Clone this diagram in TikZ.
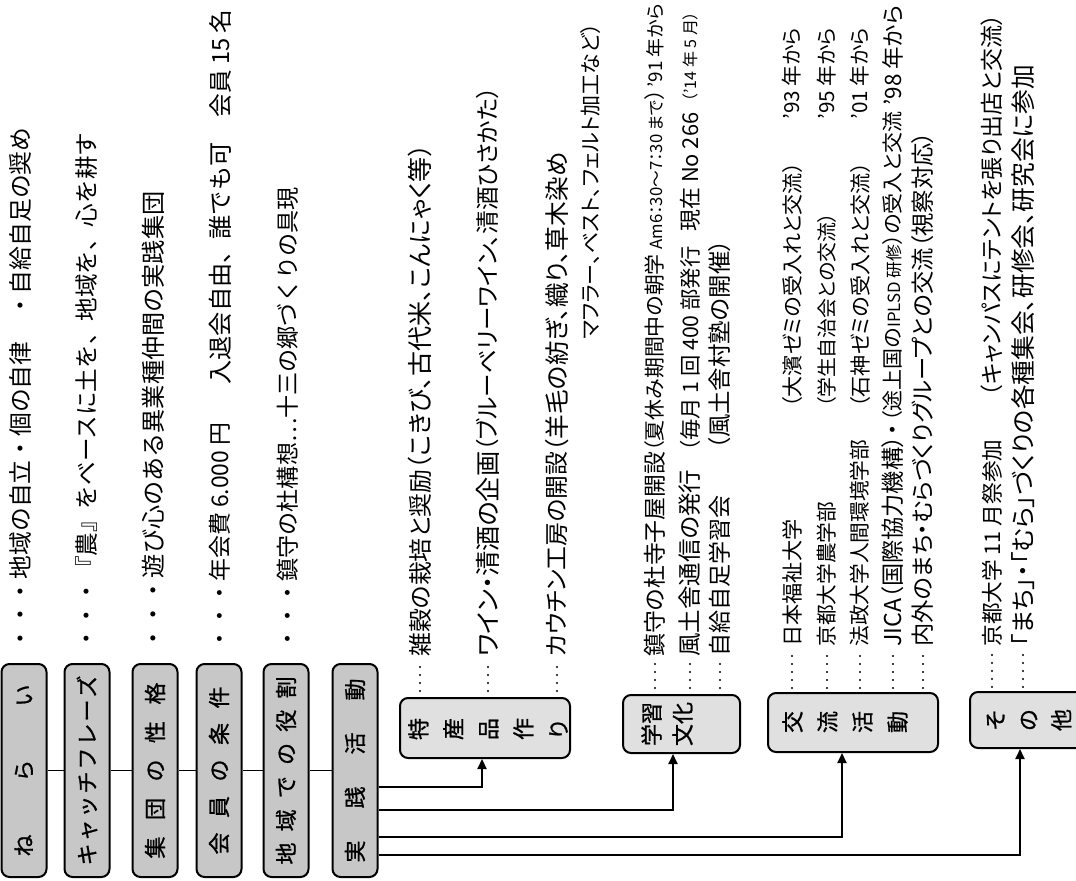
\documentclass[tikz,border=0pt]{standalone}
\usepackage{fontspec}
\usepackage{graphicx}
\newfontfamily\jp{Noto Sans CJK JP}
\newfontfamily\jpb[FakeBold=1]{Noto Sans CJK JP}
\newfontfamily\jpp[RawFeature=+palt]{Noto Sans CJK JP}
\usetikzlibrary{arrows.meta,calc}
\tikzset{
  lbox/.style={draw, line width=1pt, rounded corners=4pt, fill=black!22, minimum width=22.5pt, minimum height=106.5pt, inner sep=0pt},
  sbox/.style={draw, line width=1pt, rounded corners=4pt, fill=black!12, inner sep=0pt},
  lbl/.style={rotate=90, font=\jpb\fontsize{11}{#1}\selectfont, align=center, inner sep=0pt},
  lbl/.default=13,
  seg/.style={rotate=90, anchor=west, inner sep=0pt, font=\jpp},
  rowtxt/.style={rotate=90, anchor=west, inner sep=0pt, font=\jp},
  link/.style={line width=0.8pt},
  arr/.style={line width=0.9pt, -{Triangle[length=5pt,width=4.5pt]}},
  leader/.style={line width=1.1pt, line cap=round, dash pattern=on 0pt off 4pt},
}
\newcommand\fit[2]{\resizebox{#1pt}{!}{#2}}
\begin{document}
\begin{tikzpicture}[x=0.5pt,y=-0.5pt]
\useasboundingbox (0,0) rectangle (1076,881);
\clip (0,0) rectangle (1076,881);

% left column boxes
\node[lbox] (b1) at (24,770.5) {};
\node[lbox] (b2) at (87,770.5) {};
\node[lbox] (b3) at (155,770.5) {};
\node[lbox] (b4) at (219,770.5) {};
\node[lbox] (b5) at (286,770.5) {};
\node[lbox] (b6) at (355,770.5) {};
\node[lbl] at (b1) {\makebox[86pt][s]{ね\hfill ら\hfill い}};
\node[lbl] at (b2) {\makebox[95pt][s]{キ\hfill ャ\hfill ッ\hfill チ\hfill フ\hfill レ\hfill ー\hfill ズ}};
\node[lbl] at (b3) {\makebox[88pt][s]{集\hfill 団\hfill の\hfill 性\hfill 格}};
\node[lbl] at (b4) {\makebox[84pt][s]{会\hfill 員\hfill の\hfill 条\hfill 件}};
\node[lbl] at (b5) {\makebox[94pt][s]{地\hfill 域\hfill で\hfill の\hfill 役\hfill 割}};
\node[lbl] at (b6) {\makebox[92pt][s]{実\hfill 践\hfill 活\hfill 動}};
\draw[link] (b1) -- (b2);
\draw[link] (b2) -- (b3);
\draw[link] (b3) -- (b4);
\draw[link] (b4) -- (b5);
\draw[link] (b5) -- (b6);

% left rows
\node[rowtxt] (r1) at (20,651) {\fit{261.5}{・・・地域の自立・個の自律　・自給自足の奨め}};
\node[rowtxt] (r2) at (87,651) {\fit{259}{・・・『農』をベースに土を、地域を、心を耕す}};
\node[rowtxt] (r3) at (153,651) {\fit{229.5}{・・・遊び心のある異業種仲間の実践集団}};
\node[rowtxt] (r4a) at (220,651) {\fit{114}{・・・年会費 6.000 円}};
\node[rowtxt] (r4b) at (220,385) {\fit{121}{入退会自由、誰でも可}};
\node[rowtxt] (r4c) at (220,118) {\fit{54}{会員 15 名}};
\node[rowtxt] (r5) at (288,651) {\fit{231.5}{・・・鎮守の杜構想…十三の郷づくりの具現}};

% sub boxes
\node[sbox, minimum width=85pt, minimum height=30pt] (tok) at (485,728) {};
\node[sbox, minimum width=58.5pt, minimum height=29pt] (gak) at (681.5,724) {};
\node[sbox, minimum width=85pt, minimum height=29.5pt] (kor) at (853,722.5) {};
\node[sbox, minimum width=60pt, minimum height=28pt] (son) at (1030,720) {};
\node[lbl=17.5] at (488,729) {特\\産\\品\\作\\り};
\node[lbl=15.5] at (667,724) {学習\\文化};
\node[lbl=17.5] at (845,722) {交\\流\\活\\動};
\node[lbl=16.5] at (1029,720) {そ\\の\\他};

% arrows from 実践活動
\draw[arr, line width=1.1pt] ($(b6.east)+(0,16.5)$) -| ($(tok.south)+(-3,0)$);
\draw[arr] ($(b6.east)+(0,39.5)$) -| ($(gak.south)+(-8.5,0)$);
\draw[arr] ($(b6.east)+(0,66.5)$) -| ($(kor.south)+(-11,0)$);
\draw[arr] ($(b6.east)+(0,84.5)$) -| ($(son.south)+(-10,0)$);

% 特産品作り items
\node[seg] (t1a) at (420,657) {\fit{93.5}{雑穀の栽培と奨励}};
\node[seg] (t1b) at (420,470) {\fit{162.5}{（こきび、古代米、こんにゃく等）}};
\node[seg] (t2a) at (488,657) {\fit{102.5}{ワイン・清酒の企画}};
\node[seg] (t2b) at (488,452) {\fit{182.5}{（ブルーベリーワイン、清酒ひさかた）}};
\node[seg] (t3a) at (557,657) {\fit{102.5}{カウチン工房の開設}};
\node[seg] (t3b) at (557,452) {\fit{149.5}{（羊毛の紡ぎ、織り、草木染め}};
\node[seg] (t3c) at (590,340) {\fit{158}{マフラー、ベスト、フェルト加工など）}};
\draw[leader] ($(tok.north -| t1a.west)+(0,-6)$) -- ($(t1a.west)+(0,4)$);
\draw[leader] ($(tok.north -| t2a.west)+(0,-6)$) -- ($(t2a.west)+(0,4)$);
\draw[leader] ($(tok.north -| t3a.west)+(0,-6)$) -- ($(t3a.west)+(0,4)$);

% 学習文化 items
\node[seg] (g1a) at (655,657) {\fit{102.5}{鎮守の杜寺子屋開設}};
\node[seg] (g1b) at (655,452) {\fit{181}{（夏休み期間中の朝学 {\footnotesize Am6：30〜7：30 まで}）}};
\node[seg] (g1c) at (655,88) {\fit{42}{’91 年から}};
\node[seg] (g2a) at (690,657) {\fit{93.5}{風土舎通信の発行}};
\node[seg] (g2b) at (690,452) {\fit{102.5}{（毎月 1 回 400 部発行}};
\node[seg] (g2c) at (690,232) {\fit{59.5}{現在 No 266}};
\node[seg] (g2d) at (690,102) {\fit{45}{（’14 年 5 月）}};
\node[seg] (g3a) at (720,657) {\fit{80.5}{自給自足学習会}};
\node[seg] (g3b) at (720,450) {\fit{105}{（風土舎村塾の開催）}};
\draw[leader] ($(gak.north -| g1a.west)+(0,-6)$) -- ($(g1a.west)+(0,4)$);
\draw[leader] ($(gak.north -| g2a.west)+(0,-6)$) -- ($(g2a.west)+(0,4)$);
\draw[leader] ($(gak.north -| g3a.west)+(0,-6)$) -- ($(g3a.west)+(0,4)$);

% 交流活動 items
\node[seg] (k1a) at (792,647) {\fit{63.5}{日本福祉大学}};
\node[seg] (k1b) at (792,408) {\fit{122.5}{（大濱ゼミの受入れと交流）}};
\node[seg] (k1c) at (792,120) {\fit{46}{’93 年から}};
\node[seg] (k2a) at (827,647) {\fit{72.5}{京都大学農学部}};
\node[seg] (k2b) at (827,408) {\fit{97.5}{（学生自治会との交流）}};
\node[seg] (k2c) at (827,120) {\fit{46}{’95 年から}};
\node[seg] (k3a) at (860,647) {\fit{103.5}{法政大学人間環境学部}};
\node[seg] (k3b) at (860,408) {\fit{122.5}{（石神ゼミの受入れと交流）}};
\node[seg] (k3c) at (860,120) {\fit{46}{’01 年から}};
\node[seg] (k4a) at (893,647) {\fit{111}{JICA（国際協力機構）・}};
\node[seg] (k4b) at (893,422) {\fit{155}{（途上国の{\footnotesize IPLSD 研修}）の受入と交流}};
\node[seg] (k4c) at (893,106) {\fit{50}{’98 年から}};
\node[seg] (k5) at (923,647) {\fit{257.5}{内外のまち・むらづくりグループとの交流（視察対応）}};
\draw[leader] ($(kor.north -| k1a.west)+(0,-4)$) -- ($(k1a.west)+(0,4)$);
\draw[leader] ($(kor.north -| k2a.west)+(0,-4)$) -- ($(k2a.west)+(0,4)$);
\draw[leader] ($(kor.north -| k3a.west)+(0,-4)$) -- ($(k3a.west)+(0,4)$);
\draw[leader] ($(kor.north -| k4a.west)+(0,-4)$) -- ($(k4a.west)+(0,4)$);
\draw[leader] ($(kor.north -| k5.west)+(0,-4)$) -- ($(k5.west)+(0,4)$);

% その他 items
\node[seg] (s1a) at (992,647) {\fit{103.5}{京都大学 11 月祭参加}};
\node[seg] (s1b) at (992,397) {\fit{191}{（キャンパスにテントを張り出店と交流）}};
\node[seg] (s2) at (1023,647) {\fit{291}{「まち」・「むら」づくりの各種集会、研修会、研究会に参加}};
\draw[leader] ($(son.north -| s1a.west)+(0,-4)$) -- ($(s1a.west)+(0,4)$);
\draw[leader] ($(son.north -| s2.west)+(0,-4)$) -- ($(s2.west)+(0,4)$);
\end{tikzpicture}
\end{document}
